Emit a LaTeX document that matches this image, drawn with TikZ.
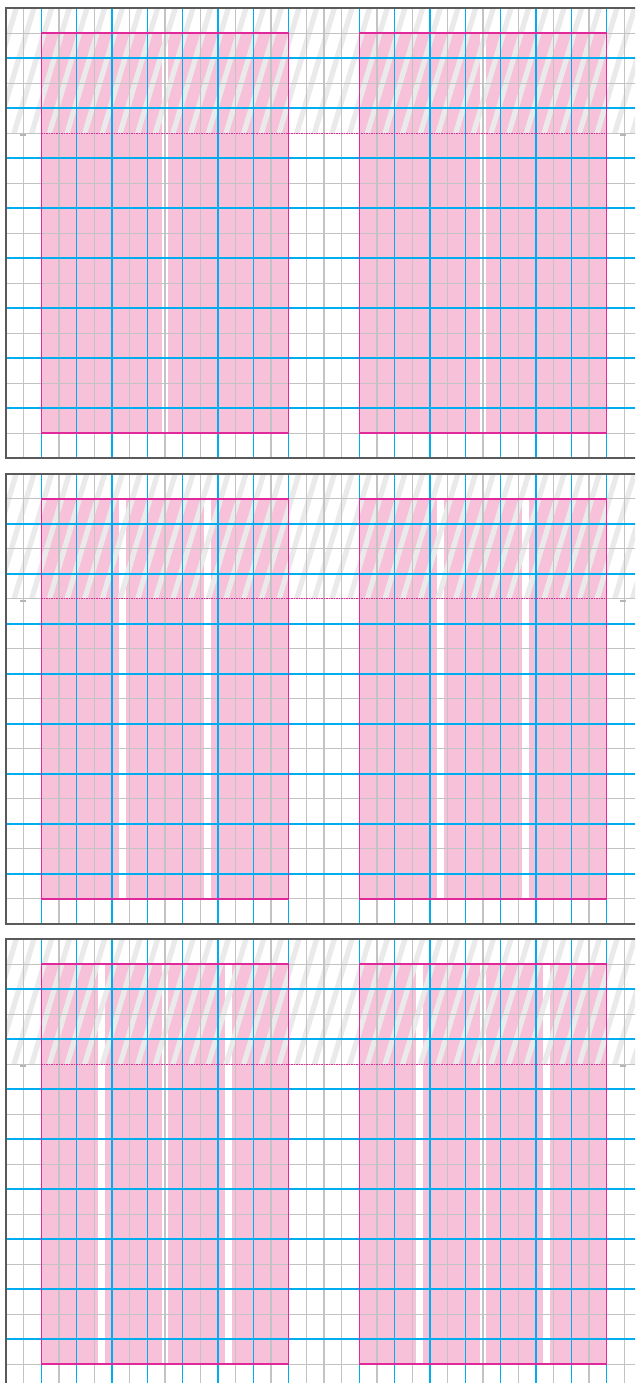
\documentclass[tikz,border=0pt]{standalone}
\definecolor{gridblue}{RGB}{0,174,239}
\definecolor{gridgray}{RGB}{195,195,195}
\definecolor{hatchgray}{RGB}{234,234,234}
\definecolor{pinkfill}{RGB}{247,193,217}
\definecolor{pinkline}{RGB}{224,41,155}
\definecolor{framegray}{RGB}{90,90,90}
\definecolor{markgray}{RGB}{181,181,181}
\begin{document}
\begin{tikzpicture}[x=1pt,y=-1pt,
  gline/.style={draw=gridgray, line width=1.2pt},
  bline/.style={draw=gridblue, line width=1.5pt},
  bhline/.style={draw=gridblue, line width=1.8pt},
  boxline/.style={draw=pinkline, line width=1.5pt},
  hatchedge/.style={draw=pinkline, line width=1pt, dash pattern=on 1.5pt off 1pt},
  stripe/.style={fill=hatchgray},
  colfill/.style={fill=pinkfill},
  frameline/.style={draw=framegray, line width=1.6pt},
  pagemark/.style={fill=markgray, minimum width=6pt, minimum height=2.5pt, inner sep=0pt, outer sep=0pt}]
\useasboundingbox (0,0) rectangle (635,1383);
\fill[white] (0,0) rectangle (635,1383);
\clip (0,0) rectangle (635,1383);
\foreach \top/\n in {8.2/2, 473.8/3, 939.2/4} {
  \begin{scope}[shift={(0,\top)}]
    % pink columns
    \pgfmathsetmacro{\w}{(247.33-(\n-1)*6.9)/\n}
    \foreach \bx in {41.33, 359.33} {
      \foreach \i in {1,...,\n} {
        \pgfmathsetmacro{\xa}{\bx+(\i-1)*(\w+6.9)}
        \pgfmathsetmacro{\xb}{\xa+\w}
        \fill[colfill] (\xa,25) rectangle (\xb,425);
      }
    }
    % hatching of the top band
    \begin{scope}
      \clip (6,0) rectangle (640,125);
      \foreach \k in {-1,...,38} {
        \fill[stripe] (\k*17.667-24,125) -- ++(5.5,0) -- ++(37.5,-125) -- ++(-5.5,0) -- cycle;
      }
    \end{scope}
    % grid lines: gray
    \foreach \k in {1,3,5,7,9,11,13,15,17,18,19,21,23,25,27,29,31,33,35} {
      \path[gline] (6+\k*17.667,0) -- (6+\k*17.667,450);
    }
    \foreach \j in {1,3,5,7,9,11,13,15,17} {
      \path[gline] (6,\j*25) -- (640,\j*25);
    }
    % grid lines: blue
    \foreach \j in {2,4,6,8,10,12,14,16} {
      \path[bhline] (6,\j*25) -- (640,\j*25);
    }
    \foreach \k in {2,4,6,8,10,12,14,16,20,22,24,26,28,30,32,34} {
      \path[bline] (6+\k*17.667,0) -- (6+\k*17.667,450);
    }
    % text boxes
    \path[boxline] (41.33,25) rectangle (288.67,425);
    \path[boxline] (359.33,25) rectangle (606.67,425);
    \path[hatchedge] (41.33,125) -- (606.67,125);
    % page marks
    \node[pagemark] (mkL\n) at (23,127) {};
    \node[pagemark] (mkR\n) at (623,127) {};
    % frame
    \path[frameline] (640,0) -- (6,0) -- (6,450) -- (640,450);
  \end{scope}
}
\end{tikzpicture}
\end{document}
